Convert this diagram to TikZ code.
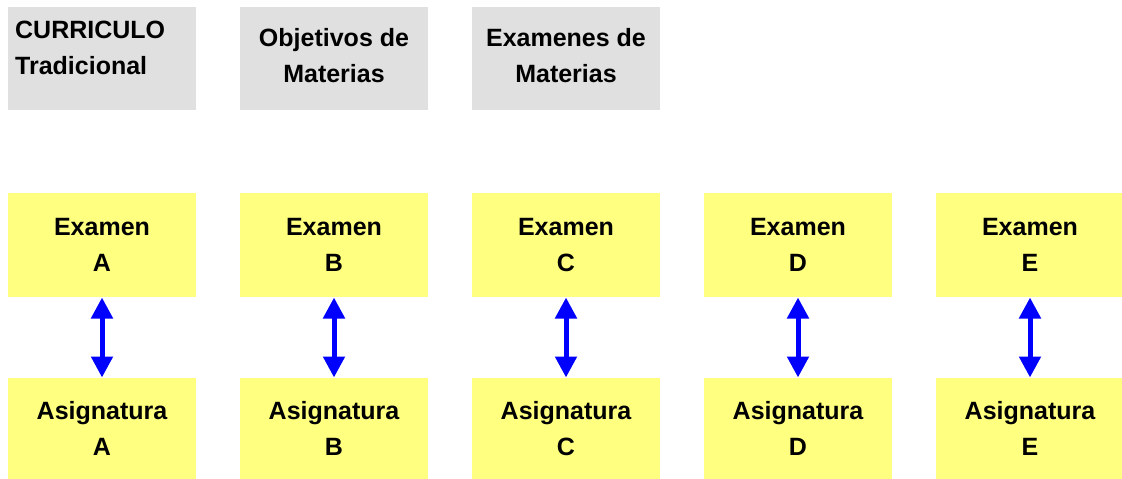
\documentclass[tikz,border=0pt]{standalone}
\usepackage{fontspec}
\setmainfont{Liberation Sans}
\usetikzlibrary{arrows.meta}
\definecolor{boxgray}{HTML}{E0E0E0}
\definecolor{boxyellow}{HTML}{FFFF80}
\definecolor{arrblue}{HTML}{0000FF}
\begin{document}
\begin{tikzpicture}[x=1pt,y=-1pt,
  lbl/.style={font=\fontsize{25}{36}\selectfont\bfseries, inner sep=0pt},
  graybox/.style={fill=boxgray, draw=none, minimum width=188pt, minimum height=103pt, inner sep=0pt, outer sep=0pt},
  ybox/.style={fill=boxyellow, draw=none, minimum width=188pt, minimum height=104pt, inner sep=0pt, outer sep=0pt, lbl, align=center},
  ybot/.style={ybox, minimum height=101pt},
  link/.style={arrblue, line width=5pt, {Triangle[width=21pt,length=21pt]}-{Triangle[width=21pt,length=21pt]}, shorten <=0.5pt, shorten >=0.5pt}
]
\useasboundingbox (0,0) rectangle (1122,479);
% gray header boxes
\node[graybox] (g1) at (102,58.5) {};
\node[graybox] (g2) at (334,58.5) {};
\node[graybox] (g3) at (566,58.5) {};
\node[lbl, align=left, anchor=north west] (t1) at (15,21) {CURRICULO\\Tradicional};
\node[lbl, align=center, anchor=north] (t2) at (334,28) {Objetivos de\\Materias};
\node[lbl, align=center, anchor=north] (t3) at (566,28) {Examenes de\\Materias};
% exam boxes
\foreach \i/\x in {A/102, B/334, C/566, D/798, E/1030}{
  \node[ybox] (ex\i) at (\x,245) {Examen\\\i};
  \node[ybot] (as\i) at (\x,428.5) {Asignatura\\\i};
  \draw[link] (ex\i.south) -- (as\i.north);
}
\end{tikzpicture}
\end{document}
